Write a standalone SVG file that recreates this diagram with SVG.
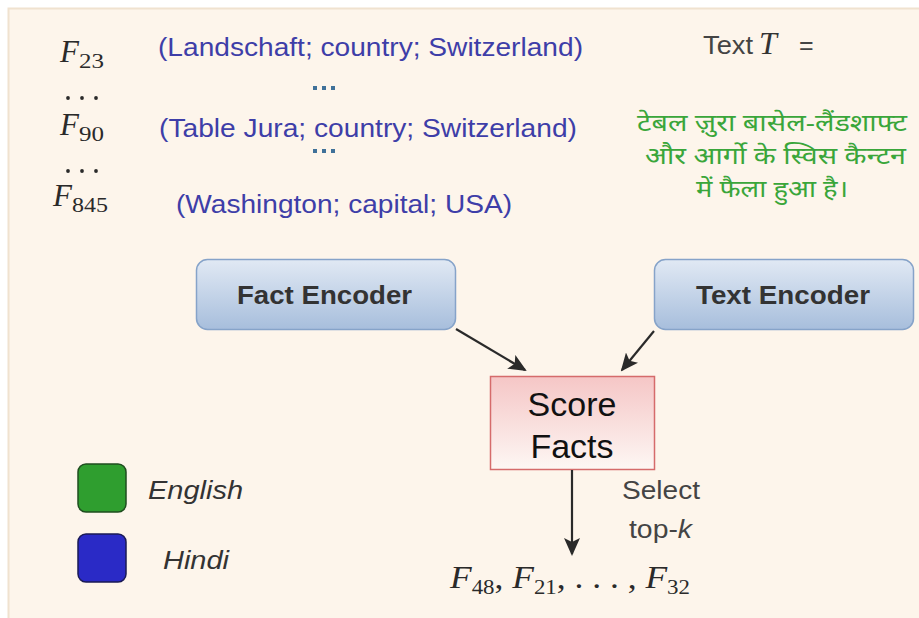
<svg xmlns="http://www.w3.org/2000/svg" width="919" height="618" viewBox="0 0 919 618">
<defs>
<linearGradient id="gBlue" x1="0" y1="0" x2="0" y2="1">
<stop offset="0" stop-color="#e1e9f4"/>
<stop offset="1" stop-color="#a7bedc"/>
</linearGradient>
<linearGradient id="gPink" x1="0" y1="0" x2="0" y2="1">
<stop offset="0" stop-color="#f5c6c6"/>
<stop offset="1" stop-color="#fdf7f4"/>
</linearGradient>
<marker id="arr" markerWidth="18" markerHeight="16" refX="16" refY="8" orient="auto" markerUnits="userSpaceOnUse" viewBox="0 0 18 16">
<path d="M0,0 L18,8 L0,16 L4,8 Z" fill="#2a2a2a"/>
</marker>
<style>
.fact{font-family:"Liberation Sans",Arial,sans-serif;font-size:26px;fill:#3e3ea8}
.math{font-family:"Liberation Serif","Times New Roman",serif;font-style:italic;font-size:31px;fill:#2a2a2a}
.sub{font-style:normal;font-size:20px}
.hin{font-family:"Noto Sans","Noto Sans Devanagari",sans-serif;font-size:24px;fill:#3aa63a}
.enc{font-family:"Liberation Sans",Arial,sans-serif;font-weight:bold;font-size:25px;fill:#333}
.lbl{font-family:"Liberation Sans",Arial,sans-serif;font-size:25px;fill:#444}
.leg{font-family:"Liberation Sans",Arial,sans-serif;font-style:italic;font-size:25px;fill:#333}
.big{font-family:"Liberation Sans",Arial,sans-serif;font-size:34px;fill:#111}
.dots{fill:#3f7199}
.mdots{fill:#2a2a2a}
</style>
</defs>
<rect x="0" y="0" width="919" height="618" fill="#ffffff"/>
<rect x="8.5" y="8.5" width="920" height="620" fill="#fdf5eb" stroke="#f0e2cf" stroke-width="2"/>

<g id="facts">
<text class="math" x="60" y="62">F<tspan class="sub" dy="6" textLength="25" lengthAdjust="spacingAndGlyphs">23</tspan></text>
<g class="mdots"><circle cx="68" cy="98" r="1.9"/><circle cx="82" cy="98" r="1.9"/><circle cx="96" cy="98" r="1.9"/></g>
<text class="math" x="60" y="135">F<tspan class="sub" dy="6" textLength="25" lengthAdjust="spacingAndGlyphs">90</tspan></text>
<g class="mdots"><circle cx="68" cy="171" r="1.9"/><circle cx="82" cy="171" r="1.9"/><circle cx="96" cy="171" r="1.9"/></g>
<text class="math" x="53" y="206">F<tspan class="sub" dy="6" textLength="36" lengthAdjust="spacingAndGlyphs">845</tspan></text>
<text class="fact" x="158" y="56" textLength="425" lengthAdjust="spacingAndGlyphs">(Landschaft; country; Switzerland)</text>
<g class="dots"><rect x="313" y="86" width="4" height="4"/><rect x="322" y="86" width="4" height="4"/><rect x="331" y="86" width="4" height="4"/></g>
<text class="fact" x="159" y="137" textLength="418" lengthAdjust="spacingAndGlyphs">(Table Jura; country; Switzerland)</text>
<g class="dots"><rect x="313" y="149" width="4" height="4"/><rect x="322" y="149" width="4" height="4"/><rect x="331" y="149" width="4" height="4"/></g>
<text class="fact" x="176" y="213" textLength="336" lengthAdjust="spacingAndGlyphs">(Washington; capital; USA)</text>
</g>

<g id="text-t">
<text class="lbl" x="703" y="54" fill="#333" textLength="50" lengthAdjust="spacingAndGlyphs">Text</text>
<text x="759" y="54" font-family="Liberation Serif,serif" font-style="italic" font-size="32px" fill="#333">T</text>
<text class="lbl" x="799" y="54" fill="#333">=</text>
<text class="hin" x="637" y="131" textLength="270" lengthAdjust="spacingAndGlyphs">टेबल ज़ुरा बासेल-लैंडशाफ्ट</text>
<text class="hin" x="645" y="164" textLength="261" lengthAdjust="spacingAndGlyphs">और आर्गो के स्विस कैन्टन</text>
<text class="hin" x="696" y="197" textLength="152" lengthAdjust="spacingAndGlyphs">में फैला हुआ है।</text>
</g>

<g id="fact-encoder">
<rect x="196.5" y="259.5" width="259" height="70" rx="11" fill="url(#gBlue)" stroke="#86a3c9" stroke-width="1.5"/>
<text class="enc" x="237" y="304" textLength="175" lengthAdjust="spacingAndGlyphs">Fact Encoder</text>
</g>
<g id="text-encoder">
<rect x="654.5" y="259.5" width="259" height="70" rx="11" fill="url(#gBlue)" stroke="#86a3c9" stroke-width="1.5"/>
<text class="enc" x="696" y="304" textLength="174" lengthAdjust="spacingAndGlyphs">Text Encoder</text>
</g>
<g id="score-facts">
<rect x="490.5" y="376.5" width="164" height="93" fill="url(#gPink)" stroke="#d56b6b" stroke-width="1.5"/>
<text class="big" x="572" y="416" text-anchor="middle">Score</text>
<text class="big" x="572" y="458" text-anchor="middle">Facts</text>
</g>
<g id="output">
<text class="math" x="450" y="588" textLength="240" lengthAdjust="spacingAndGlyphs">F<tspan class="sub" dy="6">48</tspan><tspan dy="-6" font-style="normal">, </tspan>F<tspan class="sub" dy="6">21</tspan><tspan dy="-6" font-style="normal">, . . . , </tspan>F<tspan class="sub" dy="6">32</tspan></text>
</g>
<g id="legend">
<rect x="78" y="464" width="48" height="48" rx="8" fill="#2f9e2f" stroke="#1f4d1f" stroke-width="1.5"/>
<text class="leg" x="148" y="499" textLength="95" lengthAdjust="spacingAndGlyphs">English</text>
<rect x="78" y="534" width="48" height="48" rx="8" fill="#2a2ac6" stroke="#1a1a55" stroke-width="1.5"/>
<text class="leg" x="163" y="569" textLength="66" lengthAdjust="spacingAndGlyphs">Hindi</text>
</g>

<g id="connectors" stroke="#2a2a2a" stroke-width="2.2" fill="none">
<line x1="456" y1="329" x2="525" y2="370" marker-end="url(#arr)"/>
<line x1="654" y1="331" x2="622" y2="370" marker-end="url(#arr)"/>
<line x1="572" y1="470" x2="572" y2="554" marker-end="url(#arr)"/>
</g>
<g id="select-label">
<text class="lbl" x="622" y="499" textLength="78" lengthAdjust="spacingAndGlyphs">Select</text>
<text class="lbl" x="629" y="538" textLength="63" lengthAdjust="spacingAndGlyphs">top-<tspan font-style="italic">k</tspan></text>
</g>
</svg>
